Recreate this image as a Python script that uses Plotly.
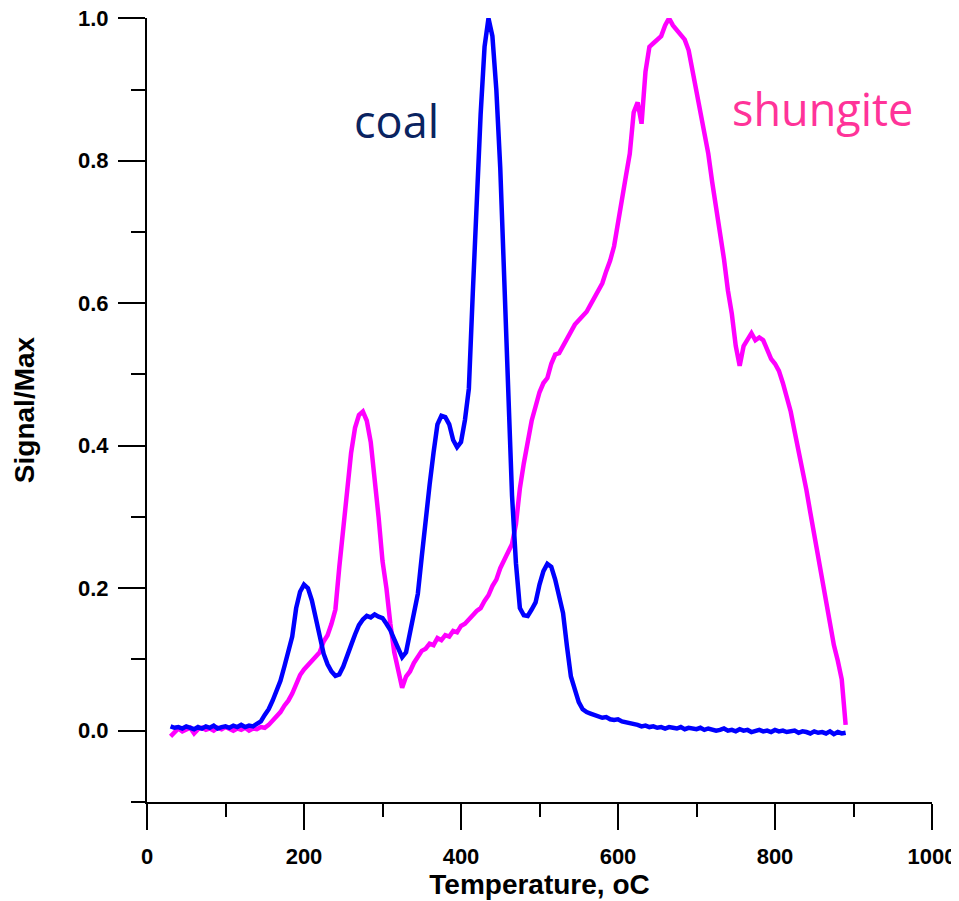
import plotly.graph_objects as go

temperature = list(range(30, 895, 5))

coal = [
    0.006, 0.004, 0.005, 0.003, 0.006, 0.004, 0.002, 0.005, 0.003, 0.006,   # 30-75
    0.004, 0.007, 0.003, 0.005, 0.006, 0.004, 0.007, 0.005, 0.008, 0.005,   # 80-125
    0.007, 0.006, 0.009, 0.013, 0.022, 0.030, 0.042, 0.055, 0.070, 0.090,   # 130-175
    0.110, 0.132, 0.172, 0.195, 0.205, 0.200, 0.183, 0.158, 0.128, 0.108,   # 180-225
    0.093, 0.083, 0.077, 0.079, 0.090, 0.103, 0.120, 0.135, 0.148, 0.156,   # 230-275
    0.161, 0.159, 0.163, 0.160, 0.158, 0.150, 0.141, 0.128, 0.116, 0.103,   # 280-325
    0.110, 0.140, 0.165, 0.192, 0.244, 0.300, 0.345, 0.390, 0.430, 0.442,   # 330-375
    0.440, 0.430, 0.408, 0.398, 0.405, 0.436, 0.480, 0.614, 0.745, 0.865,   # 380-425
    0.960, 1.000, 0.975, 0.900, 0.790, 0.645, 0.460, 0.330, 0.235, 0.172,   # 430-475
    0.162, 0.161, 0.170, 0.180, 0.205, 0.224, 0.234, 0.230, 0.212, 0.190,   # 480-525
    0.165, 0.118, 0.076, 0.058, 0.040, 0.030, 0.026, 0.024, 0.022, 0.020,   # 530-575
    0.018, 0.019, 0.016, 0.015, 0.016, 0.013, 0.012, 0.010, 0.009, 0.008,   # 580-625
    0.006, 0.007, 0.005, 0.006, 0.004, 0.005, 0.003, 0.005, 0.004, 0.003,   # 630-675
    0.005, 0.002, 0.004, 0.003, 0.002, 0.004, 0.001, 0.003, 0.002, 0.000,   # 680-725
    0.001, 0.003, 0.000, 0.001, -0.001, 0.002, 0.000, 0.001, -0.002, 0.000, # 730-775
    0.001, -0.001, 0.000, -0.002, 0.001, -0.001, 0.000, -0.002, -0.001, 0.000,  # 780-825
    -0.003, -0.001, -0.002, -0.004, -0.001, -0.003, -0.002, -0.004, -0.001, -0.005,  # 830-875
    -0.002, -0.004, -0.003,                                                 # 880-890
]

shungite = [
    -0.008, -0.002, 0.003, -0.001, 0.002, 0.004, -0.004, 0.002, 0.004, 0.001,  # 30-75
    0.003, 0.000, 0.004, 0.002, 0.005, 0.002, 0.000, 0.003, 0.001, 0.004,   # 80-125
    0.000, 0.003, 0.002, 0.005, 0.004, 0.008, 0.014, 0.018, 0.026, 0.035,   # 130-175
    0.042, 0.052, 0.064, 0.078, 0.086, 0.092, 0.097, 0.104, 0.110, 0.125,   # 180-225
    0.134, 0.150, 0.170, 0.230, 0.280, 0.340, 0.390, 0.425, 0.443, 0.448,   # 230-275
    0.435, 0.405, 0.355, 0.300, 0.238, 0.200, 0.150, 0.110, 0.085, 0.060,   # 280-325
    0.076, 0.083, 0.095, 0.105, 0.112, 0.115, 0.122, 0.120, 0.130, 0.127,   # 330-375
    0.134, 0.132, 0.140, 0.138, 0.147, 0.150, 0.155, 0.162, 0.168, 0.172,   # 380-425
    0.182, 0.190, 0.203, 0.212, 0.228, 0.240, 0.252, 0.262, 0.290, 0.340,   # 430-475
    0.375, 0.405, 0.435, 0.455, 0.475, 0.488, 0.495, 0.515, 0.528, 0.530,   # 480-525
    0.540, 0.552, 0.560, 0.570, 0.576, 0.582, 0.588, 0.598, 0.608, 0.615,   # 530-575
    0.628, 0.645, 0.660, 0.680, 0.710, 0.745, 0.778, 0.810, 0.868, 0.882,   # 580-625
    0.852, 0.925, 0.960, 0.965, 0.970, 0.975, 0.990, 1.000, 0.990, 0.984,   # 630-675
    0.978, 0.970, 0.955, 0.925, 0.900, 0.866, 0.840, 0.810, 0.770, 0.735,   # 680-725
    0.700, 0.662, 0.618, 0.585, 0.540, 0.512, 0.540, 0.548, 0.558, 0.548,   # 730-775
    0.552, 0.548, 0.535, 0.522, 0.515, 0.505, 0.488, 0.470, 0.448, 0.420,   # 780-825
    0.395, 0.365, 0.338, 0.306, 0.275, 0.245, 0.205, 0.175, 0.146, 0.120,   # 830-875
    0.098, 0.072, 0.008,                                                    # 880-890
]

x_ticks = [0, 200, 400, 600, 800, 1000]
y_ticks = [0.0, 0.2, 0.4, 0.6, 0.8, 1.0]

fig = go.Figure()
fig.add_trace(go.Scatter(x=temperature, y=shungite, mode="lines", name="shungite",
                         line=dict(color="#FF00FF", width=4.5)))
fig.add_trace(go.Scatter(x=temperature, y=coal, mode="lines", name="coal",
                         line=dict(color="#0000FF", width=4.5)))

FAM = "Liberation Sans, Arial, sans-serif"
tick_font = dict(family=FAM, size=22, color="black", weight="bold")
title_font = dict(family=FAM, size=28, color="black", weight="bold")

fig.update_layout(
    width=951, height=893,
    margin=dict(l=139, r=27, t=10, b=99, autoexpand=False),
    plot_bgcolor="white", paper_bgcolor="white",
    showlegend=False,
    xaxis=dict(
        range=[0, 1000], tickvals=x_ticks, ticktext=[str(v) for v in x_ticks],
        automargin=False, ticklabeloverflow="allow",
        showline=True, linecolor="black", linewidth=2, mirror=False,
        showgrid=False, zeroline=False,
        ticks="outside", ticklen=26, tickwidth=2, tickcolor="black",
        minor=dict(dtick=100, tick0=0, ticks="outside", ticklen=13, tickwidth=2, tickcolor="black", showgrid=False),
        tickfont=tick_font, ticklabelstandoff=8,
        title=dict(text="Temperature, oC", font=title_font, standoff=2),
    ),
    yaxis=dict(
        range=[-0.1002, 1.0004], tickvals=y_ticks, ticktext=[f"{v:.1f}" for v in y_ticks],
        automargin=False, ticklabeloverflow="allow",
        showline=True, linecolor="black", linewidth=2, mirror=False,
        showgrid=False, zeroline=False,
        ticks="outside", ticklen=27, tickwidth=2, tickcolor="black",
        minor=dict(tickvals=[-0.1, 0.1, 0.3, 0.5, 0.7, 0.9], ticks="outside", ticklen=14, tickwidth=2, tickcolor="black", showgrid=False),
        tickfont=tick_font, ticklabelstandoff=5,
        title=dict(text="Signal/Max", font=title_font, standoff=35),
    ),
    annotations=[
        dict(x=318, y=0.857, xref="x", yref="y", text="coal", showarrow=False,
             font=dict(family="Open Sans, Noto Sans, sans-serif", size=45, color="#0A2360"),
             xanchor="center", yanchor="middle"),
        dict(x=860, y=0.874, xref="x", yref="y", text="shungite", showarrow=False,
             font=dict(family="Open Sans, Noto Sans, sans-serif", size=45, color="#FF3399"),
             xanchor="center", yanchor="middle"),
    ],
)

fig.write_html("out.html")
